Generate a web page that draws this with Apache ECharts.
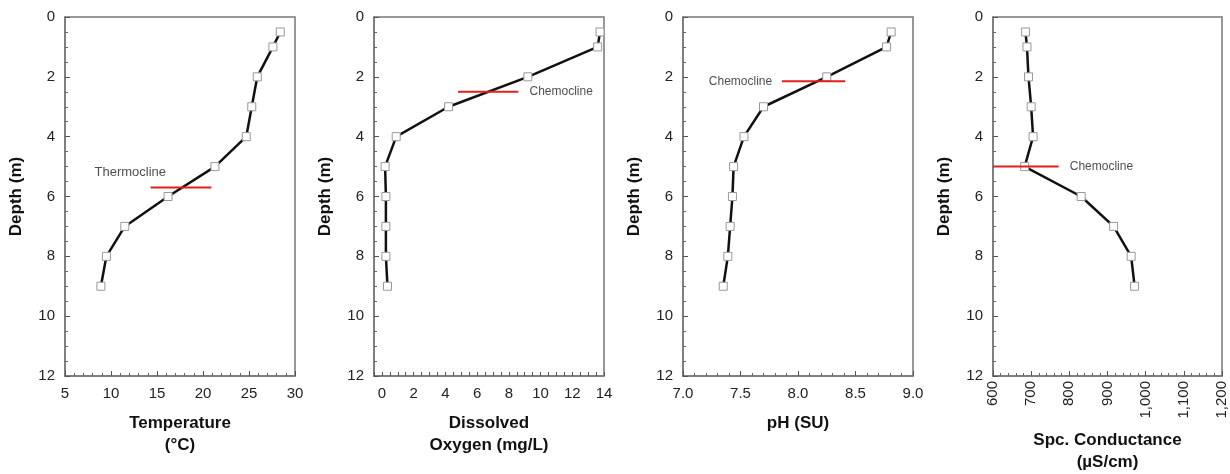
<!DOCTYPE html>
<html>
<head>
<meta charset="utf-8">
<script src="https://cdn.jsdelivr.net/npm/echarts@6/dist/echarts.min.js"></script>
<style>
  html, body { margin: 0; padding: 0; background: #fff; }
  #chart { width: 1230px; height: 474px; }
</style>
</head>
<body>
<div id="chart"></div>
<script>
// depth profile data (m)
const depth = [0.5, 1, 2, 3, 4, 5, 6, 7, 8, 9];
const temperature = [28.4, 27.6, 25.9, 25.3, 24.7, 21.3, 16.2, 11.5, 9.5, 8.9];
const dissolvedOxygen = [13.75, 13.6, 9.2, 4.2, 0.9, 0.2, 0.25, 0.25, 0.25, 0.35];
const ph = [8.81, 8.77, 8.25, 7.70, 7.53, 7.44, 7.43, 7.41, 7.39, 7.35];
const conductance = [685, 689, 693, 700, 705, 683, 831, 916, 962, 971];

// annotation lines  [x, depth]
const tempCline = [[14.3, 5.7], [20.9, 5.7]];
const doCline = [[4.8, 2.5], [8.6, 2.5]];
const phCline = [[7.86, 2.15], [8.41, 2.15]];
const condCline = [[600, 5.0], [772, 5.0]];

// annotation labels  [x, depth, text]
const tempLabel = [12.1, 5.2, 'Thermocline'];
const doLabel = [11.3, 2.5, 'Chemocline'];
const phLabel = [7.5, 2.15, 'Chemocline'];
const condLabel = [884, 5.0, 'Chemocline'];

const FONT = '"Liberation Sans", Arial, sans-serif';
const chart = echarts.init(document.getElementById('chart'));

const grids = [];
const xAxes = [];
const yAxes = [];
const series = [];

function addPanel(i, cfg) {
  grids.push({
    left: cfg.left, top: 17, width: cfg.width, height: 359,
    outerBoundsMode: 'none',
    show: true, borderColor: '#777', borderWidth: 1.5
  });
  xAxes.push({
    gridIndex: i, type: 'value', position: 'bottom',
    min: cfg.min, max: cfg.max, interval: cfg.interval,
    name: cfg.name, nameLocation: 'middle', nameGap: cfg.nameGap,
    nameTextStyle: { fontFamily: FONT, fontSize: 17, fontWeight: 'bold', color: '#111', lineHeight: 22 },
    axisLine: { show: true, onZero: false, lineStyle: { color: '#777', width: 1.5 } },
    axisTick: { show: true, inside: true, length: cfg.tickLen || 5, lineStyle: { color: '#555' } },
    minorTick: { show: cfg.minor > 0, splitNumber: cfg.minor || 5, length: 3, lineStyle: { color: '#666' } },
    splitLine: { show: false },
    axisLabel: {
      fontFamily: FONT, fontSize: 15, color: '#222', margin: cfg.rotate ? 5 : 10,
      rotate: cfg.rotate || 0, formatter: cfg.fmt
    }
  });
  yAxes.push({
    gridIndex: i, type: 'value', inverse: true, min: 0, max: 12, interval: 2,
    name: 'Depth (m)', nameLocation: 'middle', nameGap: 40, nameRotate: 90,
    nameTextStyle: { fontFamily: FONT, fontSize: 17, fontWeight: 'bold', color: '#111' },
    axisLine: { show: true, onZero: false, lineStyle: { color: '#777', width: 1.5 } },
    axisTick: { show: true, inside: true, length: 5, lineStyle: { color: '#555' } },
    minorTick: { show: true, splitNumber: 4, length: 3, lineStyle: { color: '#666' } },
    splitLine: { show: false },
    axisLabel: { fontFamily: FONT, fontSize: 15, color: '#222', margin: 10 }
  });
  series.push({
    type: 'line', xAxisIndex: i, yAxisIndex: i,
    data: cfg.values.map((v, k) => [v, depth[k]]),
    symbol: 'rect', symbolSize: 8, showAllSymbol: true,
    lineStyle: { color: '#111', width: 2.5 },
    itemStyle: { color: '#fff', borderColor: '#999', borderWidth: 1 },
    z: 3
  });
  series.push({
    type: 'line', xAxisIndex: i, yAxisIndex: i, data: cfg.cline,
    symbol: 'none', lineStyle: { color: '#e0201b', width: 2 }, z: 4
  });
  series.push({
    type: 'scatter', xAxisIndex: i, yAxisIndex: i,
    data: [[cfg.label[0], cfg.label[1]]], symbolSize: 0,
    label: {
      show: true, position: 'inside', formatter: cfg.label[2],
      fontFamily: FONT, fontSize: cfg.labelSize, color: '#222'
    },
    z: 5
  });
}

addPanel(0, {
  left: 65, width: 230, min: 5, max: 30, interval: 5, minor: 5,
  name: 'Temperature\n(°C)', nameGap: 36, values: temperature,
  cline: tempCline, label: tempLabel, labelSize: 13
});
// axis starts half a unit below zero, so ticks every 0.5 and labels only on even values
addPanel(1, {
  left: 374, width: 230, min: -0.5, max: 14, interval: 0.5, minor: 0, tickLen: 4,
  name: 'Dissolved\nOxygen (mg/L)', nameGap: 36, values: dissolvedOxygen,
  cline: doCline, label: doLabel, labelSize: 12,
  fmt: v => (Math.abs(v % 2) < 1e-9 ? String(v) : '')
});
addPanel(2, {
  left: 683, width: 230, min: 7, max: 9, interval: 0.5, minor: 5,
  name: 'pH (SU)', nameGap: 36, values: ph,
  cline: phCline, label: phLabel, labelSize: 12,
  fmt: v => v.toFixed(1)
});
addPanel(3, {
  left: 993, width: 229, min: 600, max: 1200, interval: 100, minor: 5,
  name: 'Spc. Conductance\n(µS/cm)', nameGap: 53, values: conductance,
  cline: condCline, label: condLabel, labelSize: 12, rotate: 90,
  fmt: v => v.toLocaleString('en-US')
});

chart.setOption({
  animation: false,
  backgroundColor: '#fff',
  grid: grids,
  xAxis: xAxes,
  yAxis: yAxes,
  series: series
});
</script>
</body>
</html>
